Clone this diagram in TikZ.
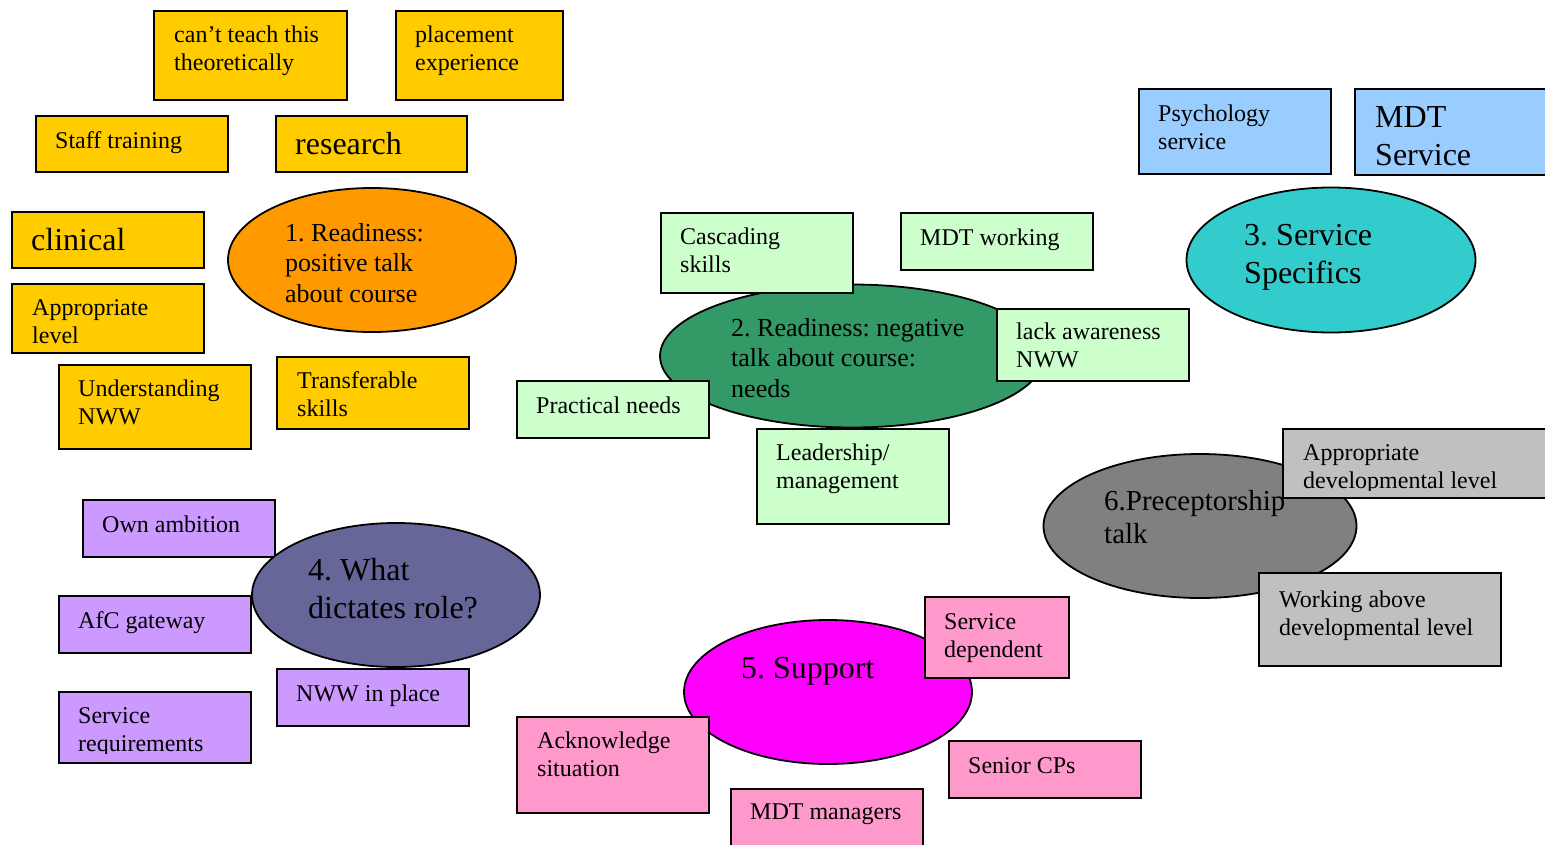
\documentclass[tikz,border=0pt]{standalone}
\usepackage{fontspec}
\setmainfont{Liberation Serif}
\usetikzlibrary{shapes.geometric}
\frenchspacing

\definecolor{gold}{HTML}{FFCC00}
\definecolor{amber}{HTML}{FF9900}
\definecolor{mint}{HTML}{CCFFCC}
\definecolor{sea}{HTML}{339966}
\definecolor{sky}{HTML}{99CCFF}
\definecolor{teal}{HTML}{33CCCC}
\definecolor{lilac}{HTML}{CC99FF}
\definecolor{slate}{HTML}{666699}
\definecolor{pinky}{HTML}{FF99CC}
\definecolor{magen}{HTML}{FF00FF}
\definecolor{stone}{HTML}{808080}
\definecolor{silver}{HTML}{C0C0C0}

\begin{document}
\begin{tikzpicture}[x=1pt,y=-1pt,
    card/.style={draw,line width=1.8pt,anchor=north west,inner sep=0pt},
    blob/.style={draw,ellipse,line width=1.8pt,inner sep=0pt},
    lbl/.style={anchor=base west,inner sep=0pt,align=left,
      font=\fontsize{24}{28}\selectfont},
    mid/.style={lbl,font=\fontsize{26}{30.5}\selectfont},
    big/.style={lbl,font=\fontsize{32}{37.5}\selectfont}]
  \useasboundingbox (0,0) rectangle (1545,844);
  % text nodes sit on the baseline of their last line

  % 1. readiness, positive
  \node[card,fill=gold,minimum width=193,minimum height=89] (cantTeach) at (153,10) {};
  \node[card,fill=gold,minimum width=167,minimum height=89] (placement) at (395,10) {};
  \node[card,fill=gold,minimum width=192,minimum height=56] (staffTrain) at (35,115) {};
  \node[card,fill=gold,minimum width=191,minimum height=56] (research) at (275,115) {};
  \node[card,fill=gold,minimum width=192,minimum height=56] (clinical) at (11,211) {};
  \node[card,fill=gold,minimum width=192,minimum height=69] (apprLevel) at (11,283) {};
  \node[card,fill=gold,minimum width=192,minimum height=84] (underNWW) at (58,364) {};
  \node[card,fill=gold,minimum width=192,minimum height=72] (transfer) at (276,356) {};
  \node[blob,fill=amber,minimum width=288,minimum height=144] (readyPos) at (372,260) {};
  \node[lbl] (cantTeachTxt) at (174,70) {can’t teach this\\theoretically};
  \node[lbl] (placementTxt) at (415,70) {placement\\experience};
  \node[lbl] (staffTrainTxt) at (55,148) {Staff training};
  \node[big] (researchTxt) at (295,154) {research};
  \node[big] (clinicalTxt) at (31,250) {clinical};
  \node[lbl] (apprLevelTxt) at (32,343) {Appropriate\\level};
  \node[lbl] (underNWWTxt) at (78,424) {Understanding\\NWW};
  \node[lbl] (transferTxt) at (297,416) {Transferable\\skills};
  \node[mid] (readyPosTxt) at (285,302) {1. Readiness:\\positive talk\\about course};

  % 2. readiness, negative
  \node[blob,fill=sea,minimum width=384,minimum height=143] (readyNeg) at (852,356) {};
  \node[card,fill=mint,minimum width=192,minimum height=80] (cascade) at (660,212) {};
  \node[card,fill=mint,minimum width=192,minimum height=57] (mdtWork) at (900,212) {};
  \node[card,fill=mint,minimum width=192,minimum height=72] (lackNWW) at (996,308) {};
  \node[card,fill=mint,minimum width=192,minimum height=57] (practical) at (516,380) {};
  \node[card,fill=mint,minimum width=192,minimum height=95] (leader) at (756,428) {};
  \node[mid] (readyNegTxt) at (731,397) {2. Readiness: negative\\talk about course:\\needs};
  \node[lbl] (cascadeTxt) at (680,272) {Cascading\\skills};
  \node[lbl] (mdtWorkTxt) at (920,245) {MDT working};
  \node[lbl] (lackNWWTxt) at (1016,367) {lack awareness\\NWW};
  \node[lbl] (practicalTxt) at (536,413) {Practical needs};
  \node[lbl] (leaderTxt) at (776,488) {Leadership/\\management};

  % 3. service specifics
  \node[card,fill=sky,minimum width=192,minimum height=85] (psych) at (1138,88) {};
  \node[card,fill=sky,minimum width=210,minimum height=86] (mdtServ) at (1354,88) {};
  \node[blob,fill=teal,minimum width=289,minimum height=145] (servSpec) at (1331,260) {};
  \node[lbl] (psychTxt) at (1158,149) {Psychology\\service};
  \node[big] (mdtServTxt) at (1375,165) {MDT\\Service};
  \node[big] (servSpecTxt) at (1244,283) {3. Service\\Specifics};

  % 4. what dictates role
  \node[card,fill=lilac,minimum width=192,minimum height=57] (ownAmb) at (82,499) {};
  \node[blob,fill=slate,minimum width=288,minimum height=144] (dictRole) at (396,595) {};
  \node[card,fill=lilac,minimum width=192,minimum height=57] (afcGate) at (58,595) {};
  \node[card,fill=lilac,minimum width=192,minimum height=71] (servReq) at (58,691) {};
  \node[card,fill=lilac,minimum width=192,minimum height=57] (nwwPlace) at (276,668) {};
  \node[big] (dictRoleTxt) at (308,618) {4. What\\dictates role?};
  \node[lbl] (ownAmbTxt) at (102,532) {Own ambition};
  \node[lbl] (afcGateTxt) at (78,628) {AfC gateway};
  \begin{scope}
    \clip (58,691) rectangle (250,753);
    \node[lbl] (servReqTxt) at (78,751) {Service\\requirements};
  \end{scope}
  \node[lbl] (nwwPlaceTxt) at (296,701) {NWW in place};

  % 5. support
  \node[blob,fill=magen,minimum width=288,minimum height=144] (support) at (828,692) {};
  \node[card,fill=pinky,minimum width=144,minimum height=81] (servDep) at (924,596) {};
  \node[card,fill=pinky,minimum width=192,minimum height=96] (ackSit) at (516,716) {};
  \node[card,fill=pinky,minimum width=192,minimum height=57] (seniorCP) at (948,740) {};
  \node[card,fill=pinky,minimum width=192,minimum height=62] (mdtMan) at (730,788) {};
  \node[big] (supportTxt) at (741,678) {5. Support};
  \node[lbl] (servDepTxt) at (944,657) {Service\\dependent};
  \node[lbl] (ackSitTxt) at (537,776) {Acknowledge\\situation};
  \node[lbl] (seniorCPTxt) at (968,773) {Senior CPs};
  \node[lbl] (mdtManTxt) at (750,819) {MDT managers};

  % 6. preceptorship
  \node[blob,fill=stone,minimum width=313,minimum height=144] (precept) at (1200,526) {};
  \node[card,fill=silver,minimum width=275,minimum height=69] (apprDev) at (1282,428) {};
  \node[card,fill=silver,minimum width=242,minimum height=93] (workAbove) at (1258,572) {};
  \begin{scope}
    \clip (1282,428) rectangle (1560,490);
    \node[lbl] (apprDevTxt) at (1303,488) {Appropriate\\developmental level};
  \end{scope}
  \node[lbl] (workAboveTxt) at (1279,635) {Working above\\developmental level};
  \node[lbl,font=\fontsize{29}{33}\selectfont] (preceptTxt) at (1104,543) {6.Preceptorship\\talk};
\end{tikzpicture}
\end{document}
